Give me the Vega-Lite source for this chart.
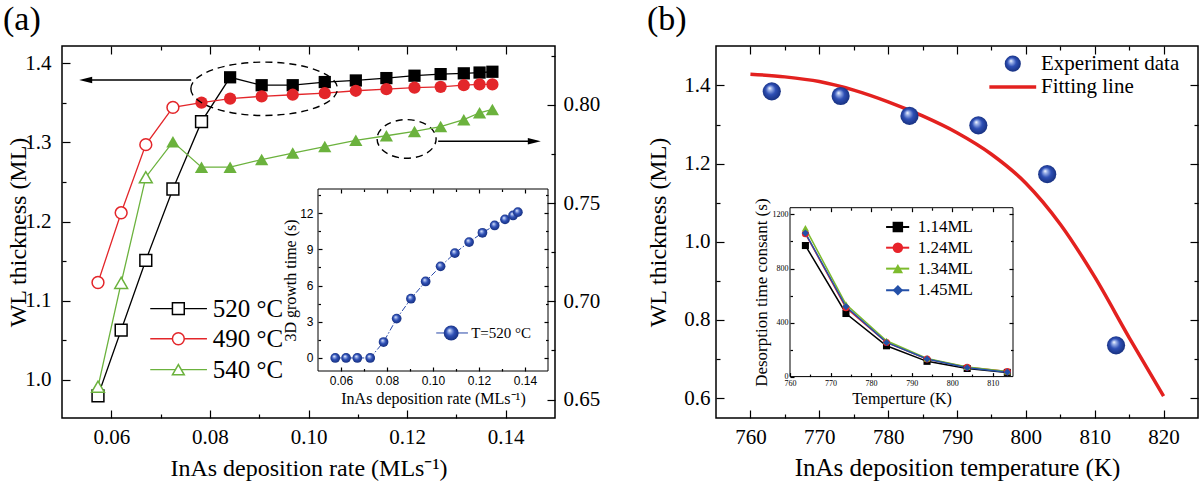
{
"$schema": "https://vega.github.io/schema/vega-lite/v6.json",
"background": "white",
"padding": {"left": 2, "top": 2, "right": 0, "bottom": 0},
"spacing": 161,
"bounds": "flush",
"resolve": {"scale": {"color": "independent", "shape": "independent"}},
"config": {
  "view": {"stroke": "black", "strokeWidth": 1.5},
  "font": "Liberation Serif",
  "axis": {"grid": false, "domain": false, "tickColor": "black", "tickWidth": 1.2, "labelColor": "black", "titleColor": "black", "labelFont": "Liberation Serif", "titleFont": "Liberation Serif", "titleFontWeight": "normal", "labelFontSize": 21, "titleFontSize": 24, "labelOverlap": false, "labelFlush": false, "zindex": 1}
},
"datasets": {
  "a_main": [
    {"t":"520","x":0.0573,"y":0.98,"f":0},{"t":"520","x":0.062,"y":1.063,"f":0},{"t":"520","x":0.067,"y":1.151,"f":0},{"t":"520","x":0.0725,"y":1.241,"f":0},{"t":"520","x":0.0783,"y":1.326,"f":0},{"t":"520","x":0.0841,"y":1.382,"f":1},{"t":"520","x":0.0905,"y":1.372,"f":1},{"t":"520","x":0.0968,"y":1.372,"f":1},{"t":"520","x":0.1033,"y":1.376,"f":1},{"t":"520","x":0.1096,"y":1.378,"f":1},{"t":"520","x":0.1158,"y":1.381,"f":1},{"t":"520","x":0.1215,"y":1.384,"f":1},{"t":"520","x":0.1268,"y":1.386,"f":1},{"t":"520","x":0.1315,"y":1.387,"f":1},{"t":"520","x":0.1347,"y":1.388,"f":1},{"t":"520","x":0.1373,"y":1.389,"f":1},
    {"t":"490","x":0.0573,"y":1.123,"f":0},{"t":"490","x":0.062,"y":1.211,"f":0},{"t":"490","x":0.067,"y":1.297,"f":0},{"t":"490","x":0.0725,"y":1.344,"f":0},{"t":"490","x":0.0783,"y":1.35,"f":1},{"t":"490","x":0.0841,"y":1.355,"f":1},{"t":"490","x":0.0905,"y":1.358,"f":1},{"t":"490","x":0.0968,"y":1.36,"f":1},{"t":"490","x":0.1033,"y":1.362,"f":1},{"t":"490","x":0.1096,"y":1.365,"f":1},{"t":"490","x":0.1158,"y":1.367,"f":1},{"t":"490","x":0.1215,"y":1.369,"f":1},{"t":"490","x":0.1268,"y":1.37,"f":1},{"t":"490","x":0.1315,"y":1.372,"f":1},{"t":"490","x":0.1347,"y":1.373,"f":1},{"t":"490","x":0.1373,"y":1.373,"f":1}
  ],
  "a_540": [
    {"x":0.0573,"y":0.6565,"f":0},{"x":0.062,"y":0.7094,"f":0},{"x":0.067,"y":0.7632,"f":0},{"x":0.0725,"y":0.7812,"f":1},{"x":0.0783,"y":0.7683,"f":1},{"x":0.0841,"y":0.7683,"f":1},{"x":0.0905,"y":0.7722,"f":1},{"x":0.0968,"y":0.7755,"f":1},{"x":0.1033,"y":0.7788,"f":1},{"x":0.1096,"y":0.782,"f":1},{"x":0.1158,"y":0.7843,"f":1},{"x":0.1215,"y":0.7865,"f":1},{"x":0.1268,"y":0.789,"f":1},{"x":0.1315,"y":0.7925,"f":1},{"x":0.1347,"y":0.796,"f":1},{"x":0.1373,"y":0.7977,"f":1}
  ],
  "a_inset": [
    {"x":0.0575,"y":0},{"x":0.0622,"y":0},{"x":0.0671,"y":0},{"x":0.0727,"y":0},{"x":0.0785,"y":1.32},{"x":0.0842,"y":3.26},{"x":0.0904,"y":4.91},{"x":0.0968,"y":6.34},{"x":0.1033,"y":7.59},{"x":0.1095,"y":8.69},{"x":0.1157,"y":9.6},{"x":0.1215,"y":10.37},{"x":0.1268,"y":10.98},{"x":0.1313,"y":11.48},{"x":0.1348,"y":11.81},{"x":0.1369,"y":12.08}
  ],
  "a_leg": [
    {"t":"520","lab":"520 °C","ly":1.09},{"t":"490","lab":"490 °C","ly":1.052},{"t":"540","lab":"540 °C","ly":1.013}
  ],
  "b_exp": [
    {"T":763.1,"w":1.385},{"T":773.1,"w":1.373},{"T":783.1,"w":1.322},{"T":793.1,"w":1.298},{"T":803.1,"w":1.173},{"T":813.1,"w":0.735}
  ],
  "b_fit": [
    {"T":760,"w":1.429},{"T":765,"w":1.422},{"T":770,"w":1.41},{"T":775,"w":1.388},{"T":780,"w":1.358},{"T":785,"w":1.322},{"T":790,"w":1.279},{"T":795,"w":1.224},{"T":800,"w":1.15},{"T":805,"w":1.045},{"T":810,"w":0.91},{"T":815,"w":0.755},{"T":820,"w":0.605}
  ],
  "b_inset": [
    {"s":"1.14ML","T":763.8,"v":970},{"s":"1.14ML","T":773.8,"v":467},{"s":"1.14ML","T":783.8,"v":228},{"s":"1.14ML","T":793.8,"v":113},{"s":"1.14ML","T":803.7,"v":60},{"s":"1.14ML","T":813.6,"v":31},
    {"s":"1.24ML","T":763.8,"v":1058},{"s":"1.24ML","T":773.8,"v":510},{"s":"1.24ML","T":783.8,"v":253},{"s":"1.24ML","T":793.8,"v":130},{"s":"1.24ML","T":803.7,"v":69},{"s":"1.24ML","T":813.6,"v":37},
    {"s":"1.34ML","T":763.8,"v":1099},{"s":"1.34ML","T":773.8,"v":535},{"s":"1.34ML","T":783.8,"v":265},{"s":"1.34ML","T":793.8,"v":135},{"s":"1.34ML","T":803.7,"v":71},{"s":"1.34ML","T":813.6,"v":38},
    {"s":"1.45ML","T":763.8,"v":1062},{"s":"1.45ML","T":773.8,"v":518},{"s":"1.45ML","T":783.8,"v":253},{"s":"1.45ML","T":793.8,"v":130},{"s":"1.45ML","T":803.7,"v":66},{"s":"1.45ML","T":813.6,"v":33}
  ],
  "b_leg": [
    {"s":"1.14ML","ly":1107},{"s":"1.24ML","ly":954},{"s":"1.34ML","ly":799},{"s":"1.45ML","ly":639}
  ]
},
"hconcat": [
{
  "width": 493, "height": 372,
  "title": {"text": "(a)", "anchor": "start", "frame": "group", "dx": -59, "fontSize": 34, "font": "Liberation Serif", "fontWeight": "normal", "color": "black", "offset": 8},
  "layer": [
    {"layer": [
      {"data": {"name": "a_main"}, "mark": {"type": "line", "strokeWidth": 1.3},
       "encoding": {
         "x": {"field": "x", "type": "quantitative", "scale": {"domain": [0.05, 0.15], "nice": false, "zero": false},
               "axis": {"orient": "bottom", "values": [0.06,0.07,0.08,0.09,0.1,0.11,0.12,0.13,0.14],
                        "labelExpr": "round(datum.value*100)%2==0 ? format(datum.value,'.2f') : ''",
                        "tickSize": {"condition": {"test": "round(datum.value*100)%2==0", "value": -8}, "value": -4},
                        "labelPadding": 16, "title": "InAs deposition rate (MLs⁻¹)", "titlePadding": 5}},
         "y": {"field": "y", "type": "quantitative", "scale": {"domain": [0.952, 1.4215], "nice": false, "zero": false},
               "axis": {"orient": "left", "values": [1,1.05,1.1,1.15,1.2,1.25,1.3,1.35,1.4],
                        "labelExpr": "round(datum.value*100)%10==0 ? format(datum.value,'.1f') : ''",
                        "tickSize": {"condition": {"test": "round(datum.value*100)%10==0", "value": -8}, "value": -4},
                        "labelPadding": 19, "title": "WL thickness (ML)", "titleX": -32}},
         "color": {"field": "t", "type": "nominal", "scale": {"domain": ["520","490","540"], "range": ["#000000","#e3262a","#6bb23d"]}, "legend": null}
       }},
      {"data": {"name": "a_main"}, "transform": [{"filter": "datum.f==0"}],
       "mark": {"type": "point", "filled": false, "fill": "white", "strokeWidth": 1.5, "size": 140, "opacity": 1},
       "encoding": {
         "x": {"field": "x", "type": "quantitative"}, "y": {"field": "y", "type": "quantitative"},
         "color": {"field": "t", "type": "nominal", "scale": {"domain": ["520","490","540"], "range": ["#000000","#e3262a","#6bb23d"]}, "legend": null},
         "shape": {"field": "t", "type": "nominal", "scale": {"domain": ["520","490","540"], "range": ["square","circle","triangle-up"]}, "legend": null}
       }},
      {"data": {"name": "a_main"}, "transform": [{"filter": "datum.f==1"}],
       "mark": {"type": "point", "filled": true, "size": 150, "opacity": 1},
       "encoding": {
         "x": {"field": "x", "type": "quantitative"}, "y": {"field": "y", "type": "quantitative"},
         "color": {"field": "t", "type": "nominal", "scale": {"domain": ["520","490","540"], "range": ["#000000","#e3262a","#6bb23d"]}, "legend": null},
         "shape": {"field": "t", "type": "nominal", "scale": {"domain": ["520","490","540"], "range": ["square","circle","triangle-up"]}, "legend": null}
       }},
      {"data": {"values": [{}]}, "mark": {"type": "rule", "color": "black", "strokeWidth": 1.5},
       "encoding": {"x": {"datum": 0.0762, "type": "quantitative"}, "x2": {"datum": 0.0548}, "y": {"datum": 1.3785, "type": "quantitative"}}},
      {"data": {"values": [{}]}, "mark": {"type": "point", "shape": "M -1 0 L 1 -0.5 L 1 0.5 Z", "filled": true, "color": "black", "size": 169, "opacity": 1},
       "encoding": {"x": {"datum": 0.0548, "type": "quantitative"}, "y": {"datum": 1.3785, "type": "quantitative"}}},
      {"data": {"values": [{}]}, "mark": {"type": "rule", "color": "black", "strokeWidth": 1.5},
       "encoding": {"x": {"datum": 0.1263, "type": "quantitative"}, "x2": {"datum": 0.1458}, "y": {"datum": 1.3013, "type": "quantitative"}}},
      {"data": {"values": [{}]}, "mark": {"type": "point", "shape": "M 1 0 L -1 -0.5 L -1 0.5 Z", "filled": true, "color": "black", "size": 169, "opacity": 1},
       "encoding": {"x": {"datum": 0.1458, "type": "quantitative"}, "y": {"datum": 1.3013, "type": "quantitative"}}},
      {"data": {"values": [{}]}, "mark": {"type": "point", "shape": "M -1 0 A 1 0.364 0 1 0 1 0 A 1 0.364 0 1 0 -1 0 Z", "filled": false, "color": "black", "strokeWidth": 1.4, "strokeDash": [7, 5], "size": 21492, "opacity": 1},
       "encoding": {"x": {"datum": 0.091, "type": "quantitative"}, "y": {"datum": 1.3675, "type": "quantitative"}}},
      {"data": {"values": [{}]}, "mark": {"type": "point", "shape": "M -1 0 A 1 0.655 0 1 0 1 0 A 1 0.655 0 1 0 -1 0 Z", "filled": false, "color": "black", "strokeWidth": 1.4, "strokeDash": [7, 5], "size": 3481, "opacity": 1},
       "encoding": {"x": {"datum": 0.1199, "type": "quantitative"}, "y": {"datum": 1.3042, "type": "quantitative"}}},
      {"data": {"name": "a_leg"}, "mark": {"type": "rule", "strokeWidth": 1.3},
       "encoding": {"x": {"datum": 0.0679, "type": "quantitative"}, "x2": {"datum": 0.0794}, "y": {"field": "ly", "type": "quantitative"},
         "color": {"field": "t", "type": "nominal", "scale": {"domain": ["520","490","540"], "range": ["#000000","#e3262a","#6bb23d"]}, "legend": null}}},
      {"data": {"name": "a_leg"}, "mark": {"type": "point", "filled": false, "fill": "white", "strokeWidth": 1.5, "size": 140, "opacity": 1},
       "encoding": {"x": {"datum": 0.0736, "type": "quantitative"}, "y": {"field": "ly", "type": "quantitative"},
         "color": {"field": "t", "type": "nominal", "scale": {"domain": ["520","490","540"], "range": ["#000000","#e3262a","#6bb23d"]}, "legend": null},
         "shape": {"field": "t", "type": "nominal", "scale": {"domain": ["520","490","540"], "range": ["square","circle","triangle-up"]}, "legend": null}}},
      {"data": {"name": "a_leg"}, "mark": {"type": "text", "align": "left", "baseline": "middle", "fontSize": 25, "font": "Liberation Serif", "color": "black"},
       "encoding": {"x": {"datum": 0.0806, "type": "quantitative"}, "y": {"field": "ly", "type": "quantitative"}, "text": {"field": "lab"}}}
    ]},
    {"data": {"name": "a_main"}, "mark": {"type": "point", "opacity": 0},
     "encoding": {
       "x": {"field": "x", "type": "quantitative", "scale": {"domain": [0.05, 0.15], "nice": false, "zero": false},
             "axis": {"orient": "top", "values": [0.06,0.07,0.08,0.09,0.1,0.11,0.12,0.13,0.14], "labels": false, "title": null,
                      "tickSize": {"condition": {"test": "round(datum.value*100)%2==0", "value": -8}, "value": -4}}},
       "y": {"field": "y", "type": "quantitative", "scale": {"domain": [0.952, 1.4215], "nice": false, "zero": false}, "axis": null}
     }},
    {"layer": [
      {"data": {"name": "a_540"}, "mark": {"type": "line", "strokeWidth": 1.3, "color": "#6bb23d"},
       "encoding": {
         "x": {"field": "x", "type": "quantitative", "scale": {"domain": [0.05, 0.15], "nice": false, "zero": false}, "axis": null},
         "y": {"field": "y", "type": "quantitative", "scale": {"domain": [0.6406, 0.83], "nice": false, "zero": false},
               "axis": {"orient": "right", "values": [0.65,0.675,0.7,0.725,0.75,0.775,0.8,0.825],
                        "labelExpr": "round(datum.value*1000)%50==0 ? format(datum.value,'.2f') : ''",
                        "tickSize": {"condition": {"test": "round(datum.value*1000)%50==0", "value": -8}, "value": -4},
                        "labelPadding": 16, "title": null}}
       }},
      {"data": {"name": "a_540"}, "transform": [{"filter": "datum.f==0"}],
       "mark": {"type": "point", "shape": "triangle-up", "filled": false, "fill": "white", "stroke": "#6bb23d", "strokeWidth": 1.5, "size": 165, "opacity": 1},
       "encoding": {"x": {"field": "x", "type": "quantitative"}, "y": {"field": "y", "type": "quantitative"}}},
      {"data": {"name": "a_540"}, "transform": [{"filter": "datum.f==1"}],
       "mark": {"type": "point", "shape": "triangle-up", "filled": true, "color": "#6bb23d", "size": 175, "opacity": 1},
       "encoding": {"x": {"field": "x", "type": "quantitative"}, "y": {"field": "y", "type": "quantitative"}}}
    ]},
    {"layer": [
      {"data": {"values": [{}]}, "mark": {"type": "rect", "filled": false, "color": "black", "strokeWidth": 1},
       "encoding": {
         "x": {"datum": 0.05, "type": "quantitative", "scale": {"domain": [0.05, 0.15], "range": [256, 486], "nice": false, "zero": false},
               "axis": {"orient": "bottom", "offset": -47, "values": [0.06,0.07,0.08,0.09,0.1,0.11,0.12,0.13,0.14],
                        "labelExpr": "round(datum.value*100)%2==0 ? format(datum.value,'.2f') : ''",
                        "tickSize": {"condition": {"test": "round(datum.value*100)%2==0", "value": -4}, "value": -2.5},
                        "labelPadding": 8, "labelFont": "Liberation Sans", "labelFontSize": 12,
                        "title": "InAs deposition rate (MLs⁻¹)", "titleFontSize": 16, "titlePadding": 3}},
         "x2": {"datum": 0.15},
         "y": {"datum": -1.08, "type": "quantitative", "scale": {"domain": [-1.08, 14], "range": [325, 143], "nice": false, "zero": false},
               "axis": {"orient": "left", "offset": -256, "values": [0,1.5,3,4.5,6,7.5,9,10.5,12,13.5],
                        "labelExpr": "datum.value%3==0 ? format(datum.value,'d') : ''",
                        "tickSize": {"condition": {"test": "datum.value%3==0", "value": -4}, "value": -2.5},
                        "labelPadding": 9, "labelFont": "Liberation Sans", "labelFontSize": 12,
                        "title": "3D growth time (s)", "titleFontSize": 16, "titlePadding": 1}},
         "y2": {"datum": 14}
       }},
      {"data": {"name": "a_inset"}, "mark": {"type": "line", "color": "#2747a8", "strokeWidth": 1, "strokeDash": [6, 2, 1.5, 2]},
       "encoding": {"x": {"field": "x", "type": "quantitative"}, "y": {"field": "y", "type": "quantitative"}}},
      {"data": {"name": "a_inset"}, "mark": {"type": "point", "filled": true, "size": 95, "opacity": 1,
        "fill": {"gradient": "radial", "x1": 0.38, "y1": 0.32, "r1": 0, "x2": 0.5, "y2": 0.5, "r2": 0.55, "stops": [{"offset": 0, "color": "#ffffff"}, {"offset": 0.18, "color": "#9fb4ea"}, {"offset": 0.5, "color": "#2e4fb5"}, {"offset": 1, "color": "#142c78"}]}},
       "encoding": {"x": {"field": "x", "type": "quantitative"}, "y": {"field": "y", "type": "quantitative"}}},
      {"data": {"values": [{}]}, "mark": {"type": "rule", "color": "#2747a8", "strokeWidth": 1},
       "encoding": {"x": {"datum": 0.1014, "type": "quantitative"}, "x2": {"datum": 0.1152}, "y": {"datum": 2.07, "type": "quantitative"}}},
      {"data": {"values": [{}]}, "mark": {"type": "point", "filled": true, "size": 225, "opacity": 1,
        "fill": {"gradient": "radial", "x1": 0.38, "y1": 0.32, "r1": 0, "x2": 0.5, "y2": 0.5, "r2": 0.55, "stops": [{"offset": 0, "color": "#ffffff"}, {"offset": 0.18, "color": "#9fb4ea"}, {"offset": 0.5, "color": "#2e4fb5"}, {"offset": 1, "color": "#142c78"}]}},
       "encoding": {"x": {"datum": 0.1079, "type": "quantitative"}, "y": {"datum": 2.07, "type": "quantitative"}}},
      {"data": {"values": [{}]}, "mark": {"type": "text", "align": "left", "baseline": "middle", "fontSize": 15, "font": "Liberation Serif", "color": "black", "text": "T=520 °C"},
       "encoding": {"x": {"datum": 0.1166, "type": "quantitative"}, "y": {"datum": 2.07, "type": "quantitative"}}}
    ]},
    {"data": {"name": "a_inset"}, "mark": {"type": "point", "opacity": 0},
     "encoding": {
       "x": {"field": "x", "type": "quantitative", "scale": {"domain": [0.05, 0.15], "range": [256, 486], "nice": false, "zero": false},
             "axis": {"orient": "top", "offset": -143, "values": [0.06,0.07,0.08,0.09,0.1,0.11,0.12,0.13,0.14], "labels": false, "title": null,
                      "tickSize": {"condition": {"test": "round(datum.value*100)%2==0", "value": -4}, "value": -2.5}}},
       "y": {"field": "y", "type": "quantitative", "scale": {"domain": [-1.08, 14], "range": [325, 143], "nice": false, "zero": false},
             "axis": {"orient": "right", "offset": -7, "values": [0,1.5,3,4.5,6,7.5,9,10.5,12,13.5], "labels": false, "title": null,
                      "tickSize": {"condition": {"test": "datum.value%3==0", "value": -4}, "value": -2.5}}}
     }}
  ],
  "resolve": {"scale": {"x": "independent", "y": "independent"}}
},
{
  "width": 482, "height": 372,
  "title": {"text": "(b)", "anchor": "start", "frame": "group", "dx": -69, "fontSize": 34, "font": "Liberation Serif", "fontWeight": "normal", "color": "black", "offset": 8},
  "layer": [
    {"layer": [
      {"data": {"name": "b_fit"}, "mark": {"type": "line", "color": "#e3211f", "strokeWidth": 3.5, "interpolate": "monotone"},
       "encoding": {
         "x": {"field": "T", "type": "quantitative", "scale": {"domain": [755, 825], "nice": false, "zero": false},
               "axis": {"orient": "bottom", "values": [760,765,770,775,780,785,790,795,800,805,810,815,820],
                        "labelExpr": "datum.value%10==0 ? format(datum.value,'d') : ''",
                        "tickSize": {"condition": {"test": "datum.value%10==0", "value": -8}, "value": -4},
                        "labelPadding": 16, "title": "InAs deposition temperature (K)", "titleFontSize": 25, "titlePadding": 4}},
         "y": {"field": "w", "type": "quantitative", "scale": {"domain": [0.549, 1.501], "nice": false, "zero": false},
               "axis": {"orient": "left", "values": [0.6,0.7,0.8,0.9,1,1.1,1.2,1.3,1.4],
                        "labelExpr": "round(datum.value*10)%2==0 ? format(datum.value,'.1f') : ''",
                        "tickSize": {"condition": {"test": "round(datum.value*10)%2==0", "value": -8}, "value": -4},
                        "labelPadding": 14, "title": "WL thickness (ML)", "titleX": -46}}
       }},
      {"data": {"name": "b_exp"}, "mark": {"type": "point", "filled": true, "size": 330, "opacity": 1,
        "fill": {"gradient": "radial", "x1": 0.38, "y1": 0.32, "r1": 0, "x2": 0.5, "y2": 0.5, "r2": 0.55, "stops": [{"offset": 0, "color": "#ffffff"}, {"offset": 0.18, "color": "#9fb4ea"}, {"offset": 0.5, "color": "#2e4fb5"}, {"offset": 1, "color": "#142c78"}]}},
       "encoding": {"x": {"field": "T", "type": "quantitative"}, "y": {"field": "w", "type": "quantitative"}}},
      {"data": {"values": [{}]}, "mark": {"type": "point", "filled": true, "size": 260, "opacity": 1,
        "fill": {"gradient": "radial", "x1": 0.38, "y1": 0.32, "r1": 0, "x2": 0.5, "y2": 0.5, "r2": 0.55, "stops": [{"offset": 0, "color": "#ffffff"}, {"offset": 0.18, "color": "#9fb4ea"}, {"offset": 0.5, "color": "#2e4fb5"}, {"offset": 1, "color": "#142c78"}]}},
       "encoding": {"x": {"datum": 798.1, "type": "quantitative"}, "y": {"datum": 1.4558, "type": "quantitative"}}},
      {"data": {"values": [{}]}, "mark": {"type": "text", "align": "left", "baseline": "middle", "fontSize": 21, "font": "Liberation Serif", "color": "black", "text": "Experiment data"},
       "encoding": {"x": {"datum": 802.2, "type": "quantitative"}, "y": {"datum": 1.4558, "type": "quantitative"}}},
      {"data": {"values": [{}]}, "mark": {"type": "rule", "color": "#e3211f", "strokeWidth": 3.5},
       "encoding": {"x": {"datum": 794.7, "type": "quantitative"}, "x2": {"datum": 801.5}, "y": {"datum": 1.396, "type": "quantitative"}}},
      {"data": {"values": [{}]}, "mark": {"type": "text", "align": "left", "baseline": "middle", "fontSize": 21, "font": "Liberation Serif", "color": "black", "text": "Fitting line"},
       "encoding": {"x": {"datum": 802.2, "type": "quantitative"}, "y": {"datum": 1.396, "type": "quantitative"}}}
    ]},
    {"data": {"name": "b_fit"}, "mark": {"type": "point", "opacity": 0},
     "encoding": {
       "x": {"field": "T", "type": "quantitative", "scale": {"domain": [755, 825], "nice": false, "zero": false},
             "axis": {"orient": "top", "values": [760,765,770,775,780,785,790,795,800,805,810,815,820], "labels": false, "title": null,
                      "tickSize": {"condition": {"test": "datum.value%10==0", "value": -8}, "value": -4}}},
       "y": {"field": "w", "type": "quantitative", "scale": {"domain": [0.549, 1.501], "nice": false, "zero": false},
             "axis": {"orient": "right", "values": [0.6,0.7,0.8,0.9,1,1.1,1.2,1.3,1.4], "labels": false, "title": null,
                      "tickSize": {"condition": {"test": "round(datum.value*10)%2==0", "value": -8}, "value": -4}}}
     }},
    {"layer": [
      {"data": {"values": [{}]}, "mark": {"type": "rect", "filled": false, "color": "black", "strokeWidth": 1},
       "encoding": {
         "x": {"datum": 760, "type": "quantitative", "scale": {"domain": [760, 815], "range": [74, 297], "nice": false, "zero": false},
               "axis": {"orient": "bottom", "offset": -41.4, "values": [760,765,770,775,780,785,790,795,800,805,810],
                        "labelExpr": "datum.value%10==0 ? format(datum.value,'d') : ''",
                        "tickSize": {"condition": {"test": "datum.value%10==0", "value": -4}, "value": -2.5},
                        "labelPadding": 7, "labelFontSize": 8,
                        "title": "Temperture (K)", "titleFontSize": 16, "titlePadding": 1}},
         "x2": {"datum": 815},
         "y": {"datum": 0, "type": "quantitative", "scale": {"domain": [0, 1250], "range": [330.6, 161.7], "nice": false, "zero": false},
               "axis": {"orient": "left", "offset": -74, "values": [0,200,400,600,800,1000,1200],
                        "labelExpr": "datum.value%400==0 ? format(datum.value,'d') : ''",
                        "tickSize": {"condition": {"test": "datum.value%400==0", "value": -4}, "value": -2.5},
                        "labelPadding": 6, "labelFontSize": 8,
                        "title": "Desorption time consant (s)", "titleFontSize": 17, "titlePadding": 2}},
         "y2": {"datum": 1250}
       }},
      {"data": {"name": "b_inset"}, "mark": {"type": "line", "strokeWidth": 1.5},
       "encoding": {"x": {"field": "T", "type": "quantitative"}, "y": {"field": "v", "type": "quantitative"},
         "color": {"field": "s", "type": "nominal", "scale": {"domain": ["1.14ML","1.24ML","1.34ML","1.45ML"], "range": ["#000000","#e8232a","#7dbb2d","#2450a8"]}, "legend": null}}},
      {"data": {"name": "b_inset"}, "mark": {"type": "point", "filled": true, "size": 50, "opacity": 1},
       "encoding": {"x": {"field": "T", "type": "quantitative"}, "y": {"field": "v", "type": "quantitative"},
         "color": {"field": "s", "type": "nominal", "scale": {"domain": ["1.14ML","1.24ML","1.34ML","1.45ML"], "range": ["#000000","#e8232a","#7dbb2d","#2450a8"]}, "legend": null},
         "shape": {"field": "s", "type": "nominal", "scale": {"domain": ["1.14ML","1.24ML","1.34ML","1.45ML"], "range": ["square","circle","triangle-up","diamond"]}, "legend": null}}},
      {"data": {"name": "b_leg"}, "mark": {"type": "rule", "strokeWidth": 2},
       "encoding": {"x": {"datum": 783.7, "type": "quantitative"}, "x2": {"datum": 789.4}, "y": {"field": "ly", "type": "quantitative"},
         "color": {"field": "s", "type": "nominal", "scale": {"domain": ["1.14ML","1.24ML","1.34ML","1.45ML"], "range": ["#000000","#e8232a","#7dbb2d","#2450a8"]}, "legend": null}}},
      {"data": {"name": "b_leg"}, "mark": {"type": "point", "filled": true, "size": 110, "opacity": 1},
       "encoding": {"x": {"datum": 786.6, "type": "quantitative"}, "y": {"field": "ly", "type": "quantitative"},
         "color": {"field": "s", "type": "nominal", "scale": {"domain": ["1.14ML","1.24ML","1.34ML","1.45ML"], "range": ["#000000","#e8232a","#7dbb2d","#2450a8"]}, "legend": null},
         "shape": {"field": "s", "type": "nominal", "scale": {"domain": ["1.14ML","1.24ML","1.34ML","1.45ML"], "range": ["square","circle","triangle-up","diamond"]}, "legend": null}}},
      {"data": {"name": "b_leg"}, "mark": {"type": "text", "align": "left", "baseline": "middle", "fontSize": 17, "font": "Liberation Serif", "color": "black"},
       "encoding": {"x": {"datum": 791.5, "type": "quantitative"}, "y": {"field": "ly", "type": "quantitative"}, "text": {"field": "s"}}}
    ]},
    {"data": {"name": "b_inset"}, "mark": {"type": "point", "opacity": 0},
     "encoding": {
       "x": {"field": "T", "type": "quantitative", "scale": {"domain": [760, 815], "range": [74, 297], "nice": false, "zero": false},
             "axis": {"orient": "top", "offset": -161.7, "values": [765,770,775,780,785,790,795,800,805,810], "labels": false, "title": null,
                      "tickSize": {"condition": {"test": "datum.value%10==0", "value": -4}, "value": -2.5}}},
       "y": {"field": "v", "type": "quantitative", "scale": {"domain": [0, 1250], "range": [330.6, 161.7], "nice": false, "zero": false},
             "axis": {"orient": "right", "offset": -185, "values": [200,400,600,800,1000,1200], "labels": false, "title": null,
                      "tickSize": {"condition": {"test": "datum.value%400==0", "value": -4}, "value": -2.5}}}
     }}
  ],
  "resolve": {"scale": {"x": "independent", "y": "independent"}}
}
]
}
